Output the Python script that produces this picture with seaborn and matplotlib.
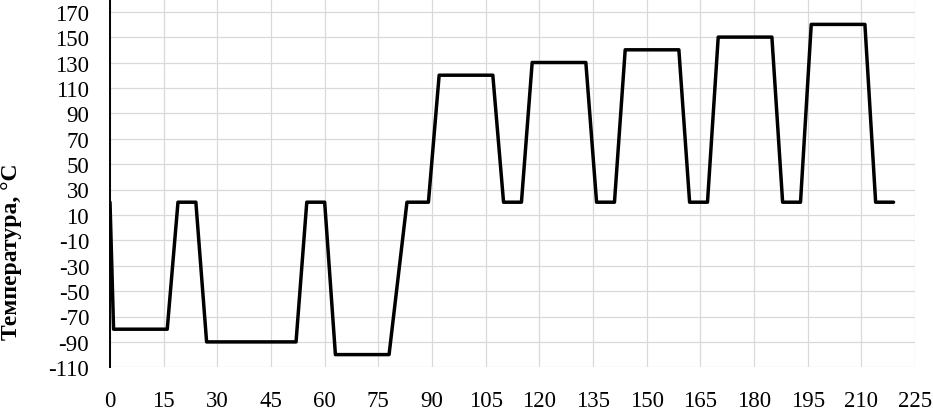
import pandas as pd
import numpy as np
import matplotlib
matplotlib.use('Agg')
import matplotlib.pyplot as plt
import seaborn as sns

# test profile: time (x) vs temperature (y)
time = [0, 1, 16, 19, 24, 27, 52, 55, 60, 63, 78, 83, 89, 92, 107, 110, 115,
        118, 133, 136, 141, 144, 159, 162, 167, 170, 185, 188, 193, 196, 211, 214, 219]
temp = [20, -80, -80, 20, 20, -90, -90, 20, 20, -100, -100, 20, 20, 120, 120, 20, 20,
        130, 130, 20, 20, 140, 140, 20, 20, 150, 150, 20, 20, 160, 160, 20, 20]
xticks = list(range(0, 226, 15))
yticks = list(range(-110, 171, 20))

df = pd.DataFrame({'time': time, 'temp': temp})

sns.set_theme(style='whitegrid')
plt.rcParams['font.family'] = ['Liberation Serif', 'DejaVu Serif']
plt.rcParams['axes.unicode_minus'] = False

fig = plt.figure(figsize=(9.33, 4.10), dpi=100)
ax = fig.add_axes([110/933, 1 - 368.3/410, (915-110)/933, 368.3/410])

sns.lineplot(data=df, x='time', y='temp', sort=False, color='black', linewidth=2.5, ax=ax)

ax.set_xlim(0, 225)
ax.set_ylim(-110, 180)
ax.set_xticks(xticks)
ax.set_yticks(yticks)
ax.tick_params(axis='both', labelsize=16.5, length=0, colors='black')
ax.tick_params(axis='y', pad=15)
ax.tick_params(axis='x', pad=16)
ax.grid(True, color='#d9d9d9', linewidth=0.9)
ax.set_xlabel('')
ax.set_ylabel('Температура, °С', fontsize=17, fontweight='bold', color='black')
ax.yaxis.set_label_coords((22-110)/805, (368.3-252)/368.3)

for side in ['top', 'right', 'bottom']:
    ax.spines[side].set_visible(False)
ax.spines['left'].set_color('black')
ax.spines['left'].set_linewidth(1.4)

fig.savefig('out.png', dpi=100)
